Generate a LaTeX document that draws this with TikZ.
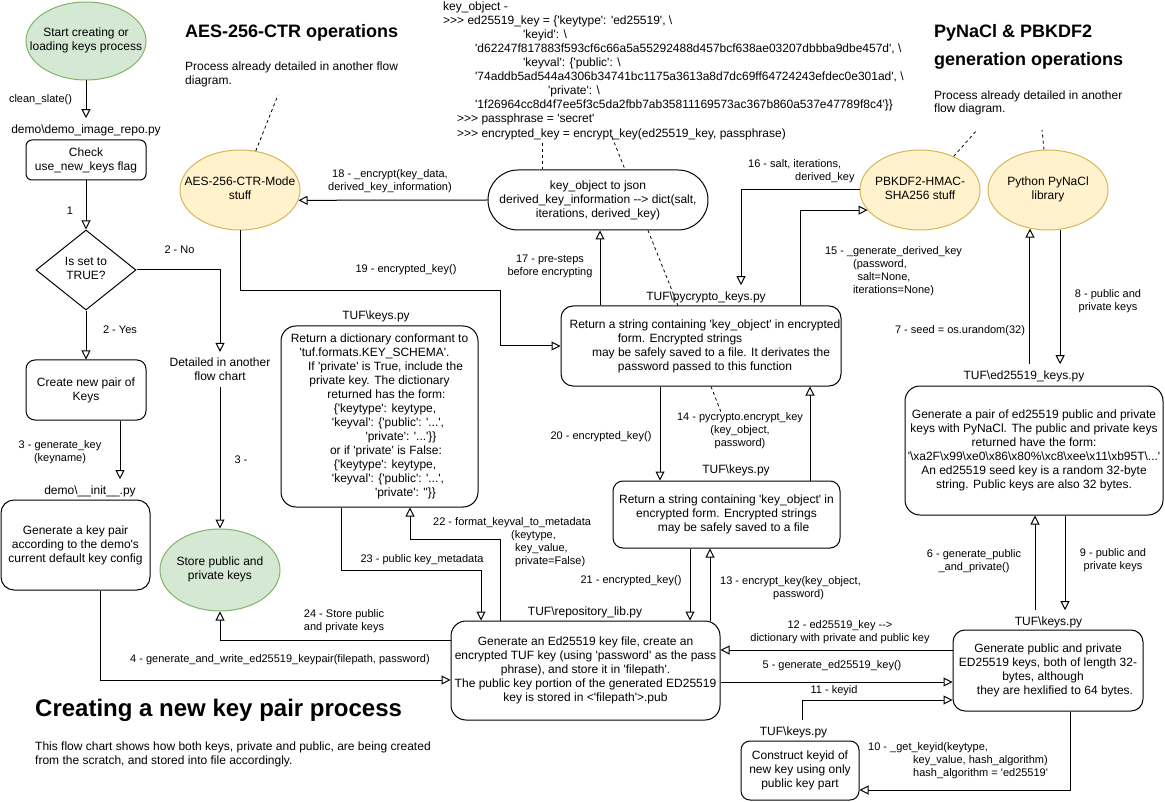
\documentclass[tikz,border=0pt]{standalone}
\usepackage{fontspec}
\setmainfont{Liberation Sans}[Ligatures=TeXOff]
\usetikzlibrary{arrows.meta}
\usetikzlibrary{shapes.geometric}

\definecolor{startfill}{HTML}{D5E8D4}
\definecolor{startdraw}{HTML}{82B366}
\definecolor{libfill}{HTML}{FFF2CC}
\definecolor{libdraw}{HTML}{D6B656}

\tikzstyle{terminal}=[
   ellipse,
   draw=startdraw,
   fill=startfill,
   line width=1pt,
   inner sep=0pt,
   minimum width=120pt,
   font=\fontsize{12}{14}\selectfont
]
\tikzstyle{library}=[
   ellipse,
   draw=libdraw,
   fill=libfill,
   line width=1pt,
   inner sep=0pt,
   minimum width=120pt,
   minimum height=80pt,
   font=\fontsize{12}{14}\selectfont
]
\tikzstyle{process}=[
   rectangle,
   rounded corners=10pt,
   draw,
   line width=1pt,
   inner sep=0pt,
   align=center,
   font=\fontsize{12}{14}\selectfont
]
\tikzstyle{decision}=[
   diamond,
   draw,
   line width=1pt,
   inner sep=0pt,
   minimum width=100pt,
   minimum height=80pt,
   font=\fontsize{12}{14}\selectfont
]
\tikzstyle{filename}=[
   inner xsep=1pt,
   inner ysep=6pt,
   font=\fontsize{12}{14}\selectfont
]
\tikzstyle{steplabel}=[
   inner sep=0pt,
   align=center,
   font=\fontsize{11}{13}\selectfont
]
\tikzstyle{codetext}=[
   anchor=west,
   inner sep=0pt,
   align=left,
   font=\fontsize{12}{14.1}\selectfont
]
\tikzstyle{heading}=[
   anchor=west,
   inner sep=0pt,
   align=left,
   font=\bfseries\fontsize{18}{28}\selectfont
]
\tikzstyle{remark}=[
   anchor=west,
   inner sep=0pt,
   align=left,
   font=\fontsize{12}{13.5}\selectfont
]
\tikzstyle{flow}=[->, line width=1pt]
\tikzstyle{pointer}=[dash pattern=on 3pt off 3pt, line width=0.8pt]
\newcommand{\ctext}[1]{\makebox[0pt]{\begin{tabular}{@{}c@{}}#1\end{tabular}}}
\newcommand{\bsl}{\textbackslash}

\begin{document}
\begin{tikzpicture}[
         x=1pt, y=-1pt,
         >={Triangle[open, length=9pt, width=9pt]}
      ]
      \useasboundingbox (0,0) rectangle (1165,802);

      % headings and notes
      \node (aeshead) [heading] at (185,33) {AES-256-CTR operations};
      \node (aesnote) [remark] at (185,74.5) {Process already detailed in another flow\\diagram.};
      \node (naclhead) [heading] at (934,47) {PyNaCl \& PBKDF2\\generation operations};
      \node (naclnote) [remark] at (934,103) {Process already detailed in another\\flow diagram.};
      \node (mainhead) [heading, font=\bfseries\fontsize{24}{28}\selectfont] at (35,710.5) {Creating a new key pair process};
      \node (mainnote) [remark] at (35,754.5) {This flow chart shows how both keys, private and public, are being created\\from the scratch, and stored into file accordingly.};

      \node (keycode) [codetext] at (443,70.5) {
         key\_object -
         \\>>> ed25519\_key = \{'keytype': 'ed25519', \bsl
         \\\hspace*{80pt}'keyid': \bsl
         \\\hspace*{32pt}'d62247f817883f593cf6c66a5a55292488d457bcf638ae03207dbbba9dbe457d', \bsl
         \\\hspace*{80pt}'keyval': \{'public': \bsl
         \\\hspace*{32pt}'74addb5ad544a4306b34741bc1175a3613a8d7dc69ff64724243efdec0e301ad', \bsl
         \\\hspace*{105pt}'private': \bsl
         \\\hspace*{32pt}'1f26964cc8d4f7ee5f3c5da2fbb7ab35811169573ac367b860a537e47789f8c4'\}\}
         \\\hspace*{14pt}>>> passphrase = 'secret'
         \\\hspace*{14pt}>>> encrypted\_key = encrypt\_key(ed25519\_key, passphrase)
      };

      % left column
      \node (start) [terminal, minimum height=78pt] at (86,41) {\ctext{Start creating or\\loading keys process}};
      \node (checkfile) [filename] at (86,130) {demo\bsl demo\_image\_repo.py};
      \node (check) [process, rounded corners=6pt, minimum width=120pt, minimum height=40pt] at (86,160) {
         Check
         \\use\_new\_keys flag
      };
      \node (decide) [decision] at (86,270) {\ctext{Is set to\\TRUE?}};
      \node (create) [process, rounded corners=9pt, minimum width=120pt, minimum height=60pt] at (86,390) {
         Create new pair of
         \\Keys
      };
      \node (detail) [steplabel, inner ysep=6pt, font=\fontsize{12}{14}\selectfont] at (220,369.5) {
         Detailed in another
         \\flow chart
      };
      \node (initfile) [filename] at (90,491) {demo\bsl\_\_init\_\_.py};
      \node (demo) [process, rounded corners=13pt, minimum width=149pt, minimum height=90pt] at (75.5,545) {
         Generate a key pair
         \\according to the demo's
         \\current default key config
      };
      \node (store) [terminal, minimum height=82pt] at (220,570) {\ctext{Store public and\\private keys}};

      % libraries
      \node (aes) [library] at (240,190) {\ctext{AES-256-CTR-Mode\\stuff}};
      \node (pbk) [library] at (920,190) {\ctext{PBKDF2-HMAC-\\SHA256 stuff}};
      \node (nacl) [library] at (1048,190) {\ctext{Python PyNaCl\\library}};

      % middle
      \node (keyobj) [process, rounded corners=30pt, minimum width=220pt, minimum height=60pt] at (598,200) {
         key\_object to json
         \\derived\_key\_information --> dict(salt,
         \\iterations, derived\_key)
      };
      \node (dictfile) [filename] at (376,316) {TUF\bsl keys.py};
      \node (dict) [process, rounded corners=15pt, minimum width=197pt, minimum height=181pt] at (379.5,416.5) {
         Return a dictionary conformant to
         \\'tuf.formats.KEY\_SCHEMA'.\hspace*{10pt}
         \\\hspace*{12pt}If 'private' is True, include the
         \\private key.  The dictionary
         \\\hspace*{14pt}returned has the form:
         \\\hspace*{11pt}\{'keytype': keytype,
         \\\hspace*{17pt}'keyval': \{'public': '...',
         \\\hspace*{43pt}'private': '...'\}\}
         \\\hspace*{13pt}or if 'private' is False:
         \\\hspace*{11pt}\{'keytype': keytype,
         \\\hspace*{17pt}'keyval': \{'public': '...',
         \\\hspace*{52pt}'private': ''\}\}
      };
      \node (pycfile) [filename] at (706,297) {TUF\bsl pycrypto\_keys.py};
      \node (pyc) [process, rounded corners=12pt, minimum width=280pt, minimum height=80pt] at (701,346) {
         \hspace*{8pt}Return a string containing 'key\_object' in encrypted
         \\form. Encrypted strings\hspace*{42pt}
         \\\hspace*{20pt}may be safely saved to a file. It derivates the
         \\\hspace*{8pt}password passed to this function
      };
      \node (encfile) [filename] at (736,470) {TUF\bsl keys.py};
      \node (enc) [process, rounded corners=10pt, minimum width=227pt, minimum height=67pt] at (726.5,514.5) {
         Return a string containing 'key\_object' in
         \\encrypted form. Encrypted strings
         \\\hspace*{14pt}may be safely saved to a file
      };
      \node (repofile) [filename] at (585,612) {TUF\bsl repository\_lib.py};
      \node (repo) [process, rounded corners=15pt, minimum width=269pt, minimum height=99pt] at (585.5,670.5) {
         Generate an Ed25519 key file, create an
         \\encrypted TUF key (using 'password' as the pass
         \\phrase), and store it in 'filepath'.
         \\The public key portion of the generated ED25519
         \\key is stored in <'filepath'>.pub
      };

      % right column
      \node (edfile) [filename] at (1024,376) {TUF\bsl ed25519\_keys.py};
      \node (ed) [process, rounded corners=15pt, minimum width=258pt, minimum height=129pt] at (1034,450.5) {
         Generate a pair of ed25519 public and private
         \\keys with PyNaCl. The public and private keys
         \\returned have the form:
         \\'\bsl xa2F\bsl x99\bsl xe0\bsl x86\bsl x80\%\bsl xc8\bsl xee\bsl x11\bsl xb95T\bsl...'
         \\An ed25519 seed key is a random 32-byte
         \\string.  Public keys are also 32 bytes.
      };
      \node (rkfile) [filename] at (1048.5,622) {TUF\bsl keys.py};
      \node (rk) [process, rounded corners=12pt, minimum width=190pt, minimum height=81pt] at (1048,670.5) {
         Generate public and private
         \\ED25519 keys, both of length 32-
         \\bytes, although\hspace*{10pt}
         \\\hspace*{14pt}they are hexlified to 64 bytes.
      };
      \node (kidfile) [filename] at (793.5,732) {TUF\bsl keys.py};
      \node (kid) [process, rounded corners=9pt, minimum width=118pt, minimum height=59pt] at (800,770.5) {
         Construct keyid of
         \\new key using only
         \\public key part
      };

      % step labels
      \node (lclean) [steplabel] at (40.5,100) {clean\_slate()};
      \node (l1) [steplabel] at (70,211) {1};
      \node (l2no) [steplabel] at (179.5,250) {2 - No};
      \node (l2yes) [steplabel] at (120,330) {2 - Yes};
      \node (l3) [steplabel] at (60,452) {3 - generate\_key\\(keyname)};
      \node (l3b) [steplabel] at (241,460) {3 -};
      \node (l4) [steplabel] at (280,660) {4 - generate\_and\_write\_ed25519\_keypair(filepath, password)};
      \node (l5) [steplabel] at (832,666) {5 - generate\_ed25519\_key()};
      \node (l6) [steplabel] at (974,561) {6 - generate\_public\\\_and\_private()};
      \node (l7) [steplabel] at (960,331) {7 - seed = os.urandom(32)};
      \node (l8) [steplabel] at (1108,301) {8 - public and\\private keys};
      \node (l9) [steplabel] at (1113,560) {9 - public and\\private keys};
      \node (l10) [steplabel, anchor=west, align=left] at (868,761) {
         10 - \_get\_keyid(keytype,
         \\\hspace*{45pt}key\_value, hash\_algorithm)
         \\\hspace*{45pt}hash\_algorithm = 'ed25519'
      };
      \node (l11) [steplabel] at (834,691) {11 - keyid};
      \node (l12) [steplabel] at (840,632) {12 - ed25519\_key -->\\dictionary with private and public key};
      \node (l13) [steplabel, anchor=west, align=left] at (720,588) {13 - encrypt\_key(key\_object,\\\hspace*{53pt}password)};
      \node (l14) [steplabel] at (740,431) {14 - pycrypto.encrypt\_key\\(key\_object,\\password)};
      \node (l15) [steplabel] at (893.5,271) {
         15 - \_generate\_derived\_key
         \\(password,\hspace*{27pt}
         \\salt=None,\hspace*{19pt}
         \\iterations=None)
      };
      \node (l16) [steplabel, anchor=west, align=left] at (748,171) {16 - salt, iterations,\\\hspace*{47pt}derived\_key};
      \node (l17) [steplabel] at (550,266) {17 - pre-steps\\before encrypting};
      \node (l18) [steplabel] at (390,181) {18 - \_encrypt(key\_data,\\derived\_key\_information)};
      \node (l19) [steplabel] at (406,270) {19 - encrypted\_key()};
      \node (l20) [steplabel] at (601,437) {20 - encrypted\_key()};
      \node (l21) [steplabel] at (631,581) {21 - encrypted\_key()};
      \node (l22) [steplabel, anchor=west, align=left] at (433,542) {
         22 - format\_keyval\_to\_metadata
         \\\hspace*{78pt}(keytype,
         \\\hspace*{82pt}key\_value,
         \\\hspace*{82pt}private=False)
      };
      \node (l23) [steplabel] at (422,560) {23 - public key\_metadata};
      \node (l24) [steplabel] at (344,621) {24 - Store public\\and private keys};

      % free ends of the dashed pointers
      \coordinate (aesptr) at (278,95);
      \coordinate (codeptrA) at (542,143);
      \coordinate (codeptrB) at (612,137);
      \coordinate (stepptr) at (721,412);
      \coordinate (pbkptr) at (977,130);
      \coordinate (naclptr) at (1042,130);

      % straight connectors
      \path[flow]
      (start) edge (checkfile)
      (check) edge (decide)
      (decide) edge (create)
      (detail) edge (store)
      ([xshift=34pt]create.south) edge ([xshift=34pt]create.south |- initfile.north)
      (keyobj.west) edge (aes.350.2)
      ([xshift=-101pt]pyc.north) edge ([xshift=2pt]keyobj.south)
      ([xshift=-41pt]pyc.south) edge ([xshift=-66.5pt]enc.north)
      ([xshift=83.5pt]enc.north) edge ([xshift=109pt]pyc.south)
      ([xshift=-36.5pt]enc.south) edge ([xshift=104.5pt]repo.north)
      ([xshift=124.5pt]repo.north) edge ([xshift=-16.5pt]enc.south)
      ([yshift=20.5pt]rk.west) edge ([yshift=20.5pt]repo.east)
      ([yshift=-11.5pt]repo.east) edge ([yshift=-11.5pt]rk.west)
      (edfile.north -| nacl.245) edge (nacl.245)
      (nacl.287) edge (nacl.287 |- edfile.north)
      ([xshift=-13.5pt]rkfile.north) edge ([xshift=1pt]ed.south)
      ([xshift=31pt]ed.south) edge ([xshift=16.5pt]rkfile.north)
      ;

      % bent connectors
      \draw[flow] (decide.east) -| (detail.north);
      \draw[flow] ([xshift=24.5pt]demo.south) |- ([yshift=-9.5pt]repo.west);
      \draw[flow] ([yshift=30.5pt]repo.west) -| (store.south);
      \draw[flow] ([xshift=-38.5pt]dict.south) -- ++(0,63) -| ([xshift=-104.5pt]repo.north);
      \draw[flow] ([xshift=-85.5pt]repo.north) -- ++(0,-81) -| ([xshift=30.5pt]dict.south);
      \draw[flow] (aes.south) -- ++(0,60) -- ++(260,0) |- (pyc.west);
      \draw[flow] (pbk.west) -| ([xshift=35pt]pycfile.north);
      \draw[flow] ([xshift=99pt]pyc.north) |- (pbk.201);
      \draw[flow] ([xshift=8.5pt]kidfile.north) |- ([yshift=-29.5pt]rk.west);
      \draw[flow] ([xshift=22pt]rk.south) |- ([yshift=-19.5pt]kid.east);

      % dashed pointers
      \draw[pointer] (aes.68) -- (aesptr);
      \draw[pointer] (codeptrA) -- (codeptrA |- keyobj.north);
      \draw[pointer] (codeptrB) -- ([xshift=27pt]keyobj.north);
      \draw[pointer] ([xshift=50pt]keyobj.south) -- ([xshift=-23pt]pyc.north);
      \draw[pointer] ([xshift=10pt]pyc.south) -- (stepptr);
      \draw[pointer] (pbk.45) -- (pbkptr);
      \draw[pointer] ([xshift=-4pt]nacl.north) -- (naclptr);

   \end{tikzpicture}
\end{document}
